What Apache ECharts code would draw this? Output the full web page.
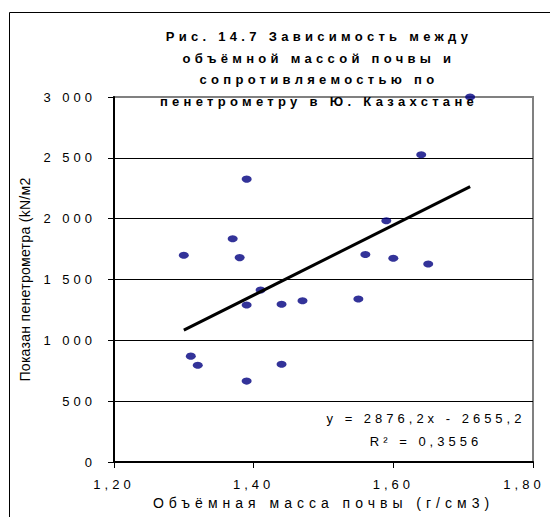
<!DOCTYPE html>
<html lang="ru">
<head>
<meta charset="UTF-8">
<title>Рис. 14.7</title>
<style>
  html, body { margin: 0; padding: 0; background: #fff; }
  #main { width: 550px; height: 517px; }
  /* Excel-like spaced lettering */
  #main svg text { letter-spacing: 4px; }
  #main svg text[style*="bold"] { letter-spacing: 4.3px; }
  #main svg text[style*="14px"] { letter-spacing: 5px; }
  #main svg text[style*="Liberation"] { letter-spacing: 0.3px; }
</style>
</head>
<body>
<div id="main"></div>
<script src="https://cdn.jsdelivr.net/npm/echarts@6/dist/echarts.min.js"></script>
<script>
    // данные: объёмная масса почвы (г/см3) и показания пенетрометра (kN/м2)
    var bulkDensity = [1.30, 1.31, 1.32, 1.37, 1.38, 1.39, 1.39, 1.39, 1.41, 1.44,
                       1.44, 1.47, 1.55, 1.56, 1.59, 1.60, 1.64, 1.65, 1.71];
    var resistance  = [1700, 870, 795, 1835, 1680, 2325, 1290, 665, 1413, 1296,
                       803, 1326, 1340, 1706, 1983, 1674, 2525, 1627, 3000];
    // линия тренда y = a*x + b
    var trendCoef = [2876.2, -2655.2];
    var equationLines = ['y = 2876,2x - 2655,2', 'R² = 0,3556'];
    var titleLines = ['Рис. 14.7 Зависимость между', 'объёмной массой почвы и',
                      'сопротивляемостью по', 'пенетрометру в Ю. Казахстане'];

    var points = [];
    for (var i = 0; i < bulkDensity.length; i++) {
        points.push([bulkDensity[i], resistance[i]]);
    }
    var xMin = Math.min.apply(null, bulkDensity);
    var xMax = Math.max.apply(null, bulkDensity);
    var trend = [[xMin, trendCoef[0] * xMin + trendCoef[1]],
                 [xMax, trendCoef[0] * xMax + trendCoef[1]]];

    var font = 'Arial';
    var option = {
        backgroundColor: '#fff',
        animation: false,
        grid: {
            left: 114, top: 97, right: 17, bottom: 55,
            show: true, borderColor: '#808080', borderWidth: 2
        },
        xAxis: {
            type: 'value', min: 1.2, max: 1.8, interval: 0.2,
            name: 'Объёмная масса почвы (г/см3)',
            nameLocation: 'middle', nameGap: 33,
            nameTextStyle: { fontFamily: font, fontSize: 14, color: '#000' },
            axisLine: { lineStyle: { color: '#000', width: 2 } },
            axisTick: { length: 6, lineStyle: { color: '#000' } },
            axisLabel: {
                margin: 16, fontFamily: font, fontSize: 13, color: '#000',
                formatter: function (v) {
                    var s = v.toFixed(2).replace('.', ',');
                    return v >= 1.79 ? '{last|' + s + '}' : s;
                },
                rich: { last: { fontFamily: font, fontSize: 13, color: '#000', padding: [0, 18, 0, 0] } }
            },
            splitLine: { show: false }
        },
        yAxis: {
            type: 'value', min: 0, max: 3000, interval: 500,
            name: 'Показан пенетрометра (kN/м2',
            nameLocation: 'middle', nameGap: 82, nameRotate: 90,
            nameTextStyle: { fontFamily: 'Liberation Sans', fontSize: 14, color: '#000' },
            axisLine: { lineStyle: { color: '#000', width: 2 } },
            axisTick: { length: 6, lineStyle: { color: '#000' } },
            axisLabel: {
                margin: 18, fontFamily: font, fontSize: 13, color: '#000',
                formatter: function (v) { return String(v).replace(/\B(?=(\d{3})+(?!\d))/g, ' '); }
            },
            splitLine: { lineStyle: { color: ['#000', '#000', '#000', '#000', '#000', '#000', '#808080'], width: 1 } }
        },
        graphic: [
            {
                type: 'rect', silent: true, z: 100,
                shape: { x: 9.5, y: 12.5, width: 560, height: 520 },
                style: { fill: 'none', stroke: '#000', lineWidth: 1 }
            },
            {
                type: 'text', z: 100, x: 319, y: 26,
                style: {
                    text: titleLines.join('\n'), textAlign: 'center',
                    font: 'bold 13px Arial', lineHeight: 21.5, fill: '#000'
                }
            },
            {
                type: 'text', z: 100, x: 426, y: 407,
                style: {
                    text: equationLines.join('\n'), textAlign: 'center',
                    font: '13px Arial', lineHeight: 23, fill: '#000'
                }
            }
        ],
        series: [
            {
                type: 'scatter', data: points,
                symbol: 'circle', symbolSize: [10, 7],
                itemStyle: { color: '#000080' }, z: 3
            },
            {
                type: 'line', data: trend, showSymbol: false,
                lineStyle: { color: '#000', width: 3 }, z: 4
            }
        ]
    };

    var chart = echarts.init(document.getElementById('main'), null, { renderer: 'svg' });
    chart.setOption(option);
</script>
</body>
</html>
